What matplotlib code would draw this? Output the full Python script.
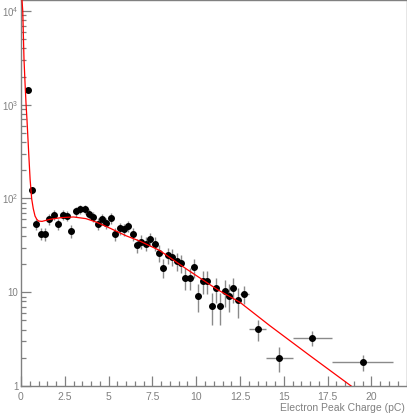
import numpy as np
import matplotlib
matplotlib.use("Agg")
import matplotlib.pyplot as plt
from matplotlib.ticker import FixedLocator, MultipleLocator, NullFormatter

plt.rcParams["font.family"] = ["Liberation Sans", "DejaVu Sans"]
plt.rcParams["mathtext.default"] = "regular"

# histogram points: bin centre, bin width, content
x_centre = [0.375, 0.625, 0.875, 1.125, 1.375, 1.625, 1.875, 2.125, 2.375, 2.625,
            2.875, 3.125, 3.375, 3.625, 3.875, 4.125, 4.375, 4.625, 4.875, 5.125,
            5.375, 5.625, 5.875, 6.125, 6.375, 6.625, 6.875, 7.125, 7.375, 7.625,
            7.875, 8.125, 8.375, 8.625, 8.875, 9.125, 9.375, 9.625, 9.875, 10.125,
            10.375, 10.625, 10.875, 11.125, 11.375, 11.625, 11.875, 12.125, 12.375,
            12.75, 13.5, 14.75, 16.625, 19.5]
bin_width = [0.25] * 49 + [0.5, 1.0, 1.5, 2.25, 3.5]
counts = [1450, 122, 53.6, 42.3, 42, 60, 67, 53.6, 67, 65,
          45, 72.7, 77, 77, 69, 64, 54, 60, 55, 61.6,
          42, 48, 47, 51, 42, 31.6, 34.7, 33, 37, 33,
          26.4, 18.3, 24.8, 24, 21.5, 20.5, 14.3, 14.3, 18.4, 9.1,
          13.1, 13.1, 7.1, 11, 7.1, 10.2, 9.1, 11, 8.2,
          9.6, 4.05, 2.0, 3.25, 1.8]

# fitted curve
fit_x = [0.057, 0.1, 0.17, 0.23, 0.29, 0.34, 0.38, 0.45, 0.52, 0.61, 0.7, 0.8, 0.9,
         1.0, 1.2, 1.66, 2.3, 3.0, 3.7, 4.3, 5.0, 6.0, 6.8, 7.9, 9.5, 11.2, 12.5,
         14.2, 16.5, 18.84]
fit_y = [13100, 10000, 3100, 1700, 1000, 700, 500, 280, 160, 99, 78, 65, 60,
         57.5, 57, 60, 62.5, 63.5, 61, 56, 49, 40, 35, 28, 17.4, 10.7, 7.8,
         4.4, 2.1, 1.0]

xc = np.array(x_centre)
w = np.array(bin_width)
yv = np.array(counts)
nsub = w / 0.25
yerr = np.sqrt(yv * nsub) / nsub
yerr_lo = np.minimum(yerr, yv - 1e-3)

fig = plt.figure(figsize=(4.07, 4.15), dpi=100)
ax = fig.add_axes([21 / 407, 1 - 386 / 415, 385.5 / 407, 386 / 415])

grey = "#808080"
ax.errorbar(xc, yv, xerr=w / 2, yerr=[yerr_lo, yerr], fmt="none",
            ecolor="#8a8a8a", elinewidth=1.0, capsize=0, zorder=2)
ax.plot(xc, yv, "o", color="black", markersize=4.0, zorder=3)
ax.plot(fit_x, fit_y, color="#ff0000", lw=0.9, zorder=4)

ax.set_yscale("log")
ax.set_xlim(0, 22)
ax.set_ylim(1, 13100)

ax.xaxis.set_major_locator(MultipleLocator(2.5))
ax.xaxis.set_minor_locator(MultipleLocator(0.5))
ax.set_xticks([0, 2.5, 5, 7.5, 10, 12.5, 15, 17.5, 20])
ax.set_xticklabels(["0", "2.5", "5", "7.5", "10", "12.5", "15", "17.5", "20"])

ax.yaxis.set_major_locator(FixedLocator([1, 10, 100, 1000, 10000]))
minor = [m * 10 ** e for e in range(0, 5) for m in range(2, 10)]
ax.yaxis.set_minor_locator(FixedLocator(minor))
ax.yaxis.set_minor_formatter(NullFormatter())
ax.set_yticklabels(["1", "10", "$10^{2}$", "$10^{3}$", "$10^{4}$"])

for s in ax.spines.values():
    s.set_color(grey)
    s.set_linewidth(1.0)
ax.tick_params(which="both", direction="in", colors=grey, labelcolor=grey,
               labelsize=7.5, top=False, right=False)
ax.tick_params(which="major", length=7, width=0.9)
ax.tick_params(which="minor", length=3.5, width=0.9)
ax.tick_params(axis="x", which="major", pad=4)
ax.tick_params(axis="y", which="major", pad=2, labelsize=7)

fig.text(405 / 407, 1 - 411 / 415, "Electron Peak Charge (pC)", fontsize=7.5,
         color=grey, ha="right", va="baseline")

fig.savefig("out.png", dpi=100)
